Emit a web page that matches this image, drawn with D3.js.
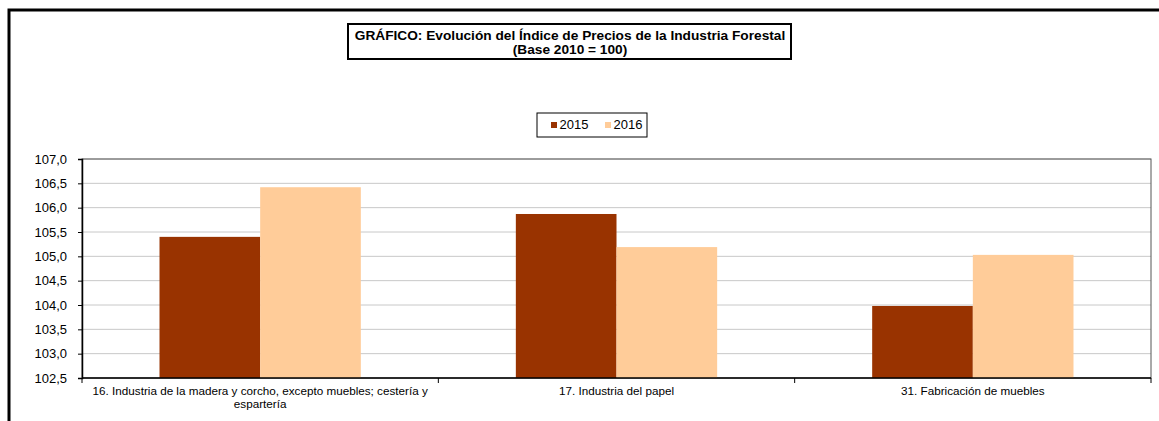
<!DOCTYPE html>
<html>
<head>
<meta charset="utf-8">
<script src="https://cdn.jsdelivr.net/npm/d3@7"></script>
<style>
  body { margin: 0; background: #fff; }
  svg { font-family: "Liberation Sans", Arial, sans-serif; }
</style>
</head>
<body>
<svg id="chart" width="1159" height="421"></svg>
<script>
// chart data
const categories = [
    ["16. Industria de la madera y corcho, excepto muebles; cestería y", "espartería"],
    ["17. Industria del papel"],
    ["31. Fabricación de muebles"]
];
const seriesNames = ["2015", "2016"];
const values2015 = [105.40, 105.87, 103.98];
const values2016 = [106.42, 105.19, 105.03];
const yTicks = [102.5, 103.0, 103.5, 104.0, 104.5, 105.0, 105.5, 106.0, 106.5, 107.0];
const titleLines = ["GRÁFICO: Evolución del Índice de Precios de la Industria Forestal", "(Base 2010 = 100)"];

const colors = ["#993300", "#FFCC99"];

const svg = d3.select("#chart");

// outer frame (runs past right and bottom edge)
svg.append("rect")
    .attr("x", 9).attr("y", 10)
    .attr("width", 1200).attr("height", 450)
    .attr("fill", "none").attr("stroke", "#000").attr("stroke-width", 3);

// title box
svg.append("rect")
    .attr("x", 348).attr("y", 24).attr("width", 443).attr("height", 35)
    .attr("fill", "#fff").attr("stroke", "#000").attr("stroke-width", 2);
svg.selectAll(".title")
    .data(titleLines)
    .join("text")
    .attr("class", "title")
    .attr("x", 570)
    .attr("y", (d, i) => 40 + i * 14)
    .attr("text-anchor", "middle")
    .style("font-size", "13.7px")
    .style("font-weight", "bold")
    .text(d => d);

const margin = {top: 159, left: 82, right: 8, bottom: 43};
const width = 1159 - margin.left - margin.right,
      height = 421 - margin.top - margin.bottom;

const g = svg.append("g").attr("transform", `translate(${margin.left},${margin.top})`);

const x0 = d3.scaleBand().domain(d3.range(categories.length)).range([0, width]);
const x1 = d3.scaleBand().domain(seriesNames).range([0, x0.bandwidth()]).paddingOuter(0.77);
const y = d3.scaleLinear().domain([102.5, 107]).range([height, 0]);

const locale = d3.formatLocale({decimal: ",", thousands: ".", grouping: [3], currency: ["", "€"]});
const fmt = locale.format(".1f");

// gridlines
g.selectAll(".grid")
    .data(yTicks.slice(1))
    .join("line")
    .attr("x1", 0).attr("x2", width)
    .attr("y1", d => y(d)).attr("y2", d => y(d))
    .attr("stroke", "#c8c8c8").attr("stroke-width", 1);

// plot frame
g.append("rect")
    .attr("x", 0).attr("y", 0).attr("width", width).attr("height", height)
    .attr("fill", "none").attr("stroke", "#555").attr("stroke-width", 1);

// bars
const rows = categories.map((c, i) => ({i, values: [values2015[i], values2016[i]]}));
const slice = g.selectAll(".slice")
    .data(rows)
    .join("g")
    .attr("transform", d => `translate(${x0(d.i)},0)`);

slice.selectAll("rect")
    .data(d => d.values.map((v, k) => ({name: seriesNames[k], v, k})))
    .join("rect")
    .attr("x", d => x1(d.name))
    .attr("width", x1.bandwidth())
    .attr("y", d => y(d.v))
    .attr("height", d => height - y(d.v))
    .attr("fill", d => colors[d.k]);

// y axis
const yAxis = g.append("g")
    .call(d3.axisLeft(y).tickValues(yTicks).tickFormat(fmt).tickSize(4).tickPadding(11));
yAxis.select(".domain").attr("stroke", "#000").attr("stroke-width", 1.5);
yAxis.selectAll("text").style("font-size", "13px").attr("fill", "#000")
    .attr("font-family", "Liberation Sans, Arial, sans-serif");

// x axis
const xAxis = g.append("g")
    .attr("transform", `translate(0,${height})`);
xAxis.append("line")
    .attr("x1", 0).attr("x2", width).attr("stroke", "#000").attr("stroke-width", 1.5);
xAxis.selectAll(".xtick")
    .data(d3.range(categories.length + 1))
    .join("line")
    .attr("x1", d => d * x0.step()).attr("x2", d => d * x0.step())
    .attr("y1", 0).attr("y2", 5)
    .attr("stroke", "#000");

const xl = xAxis.selectAll(".xlab")
    .data(categories)
    .join("text")
    .attr("class", "xlab")
    .attr("text-anchor", "middle")
    .attr("transform", (d, i) => `translate(${x0(i) + x0.bandwidth() / 2},17)`)
    .style("font-size", "11.7px");
xl.selectAll("tspan")
    .data(d => d)
    .join("tspan")
    .attr("x", 0)
    .attr("dy", (d, i) => i === 0 ? 0 : 13)
    .text(d => d);

// legend
const legend = svg.append("g").attr("transform", "translate(537,113)");
legend.append("rect")
    .attr("width", 110).attr("height", 24)
    .attr("fill", "#fff").attr("stroke", "#000");
const items = legend.selectAll(".item")
    .data(seriesNames)
    .join("g")
    .attr("transform", (d, i) => `translate(${14 + i * 54},0)`);
items.append("rect")
    .attr("y", 9).attr("width", 6).attr("height", 6)
    .attr("fill", (d, i) => colors[i]);
items.append("text")
    .attr("x", 8.5).attr("y", 16)
    .style("font-size", "13px")
    .text(d => d);
</script>
</body>
</html>
